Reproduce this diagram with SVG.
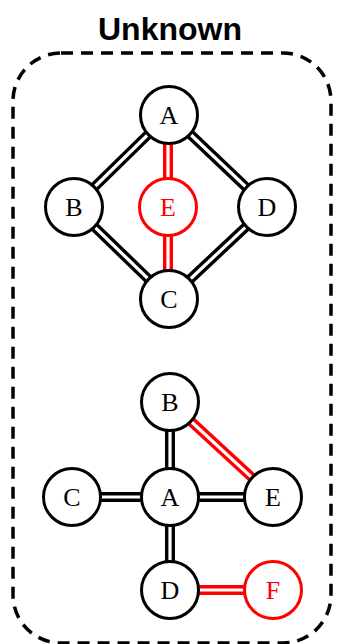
<svg xmlns="http://www.w3.org/2000/svg" width="338" height="644" viewBox="0 0 338 644">
<style>
.t{font-family:"Liberation Sans",Arial,sans-serif;font-weight:bold;font-size:32px;fill:#000}
.n circle{fill:#fff;stroke:#000;stroke-width:3}
.n text{font-family:"Liberation Serif","Times New Roman",serif;font-size:26px;fill:#000;text-anchor:middle}
.r circle{stroke:#f00}
.r text{fill:#f00}
.ob{stroke:#000;stroke-width:10;fill:none}
.or{stroke:#f00;stroke-width:10;fill:none}
.in{stroke:#fff;stroke-width:3.2;fill:none}
</style>
<rect x="13" y="53" width="318" height="590" rx="48" ry="48" fill="none" stroke="#000" stroke-width="3.5" stroke-dasharray="12 8"/>
<text class="t" x="170" y="40" text-anchor="middle">Unknown</text>
<g id="connectors">
<g class="ob">
<line x1="169" y1="114" x2="74" y2="207"/>
<line x1="169" y1="114" x2="267" y2="207"/>
<line x1="74" y1="207" x2="169" y2="299"/>
<line x1="267" y1="207" x2="169" y2="299"/>
<line x1="170" y1="402" x2="170" y2="497"/>
<line x1="72" y1="497" x2="170" y2="497"/>
<line x1="170" y1="497" x2="273" y2="497"/>
<line x1="170" y1="497" x2="170" y2="590"/>
</g>
<g class="or">
<line x1="168" y1="114" x2="168" y2="299"/>
<line x1="170" y1="402" x2="273" y2="497"/>
<line x1="170" y1="590" x2="273" y2="590"/>
</g>
<g class="in">
<line x1="169" y1="114" x2="74" y2="207"/>
<line x1="169" y1="114" x2="267" y2="207"/>
<line x1="74" y1="207" x2="169" y2="299"/>
<line x1="267" y1="207" x2="169" y2="299"/>
<line x1="168" y1="114" x2="168" y2="299"/>
<line x1="170" y1="402" x2="170" y2="497"/>
<line x1="72" y1="497" x2="170" y2="497"/>
<line x1="170" y1="497" x2="273" y2="497"/>
<line x1="170" y1="497" x2="170" y2="590"/>
<line x1="170" y1="402" x2="273" y2="497"/>
<line x1="170" y1="590" x2="273" y2="590"/>
</g>
</g>
<g id="g1A" class="n"><circle cx="169" cy="115" r="28.5"/><text x="169" y="124">A</text></g>
<g id="g1B" class="n"><circle cx="74" cy="207" r="28.5"/><text x="74" y="216">B</text></g>
<g id="g1E" class="n r"><circle cx="168" cy="207" r="28.5"/><text x="168" y="216">E</text></g>
<g id="g1D" class="n"><circle cx="267" cy="207" r="28.5"/><text x="267" y="216">D</text></g>
<g id="g1C" class="n"><circle cx="169" cy="299" r="28.5"/><text x="169" y="308">C</text></g>
<g id="g2B" class="n"><circle cx="170" cy="402" r="28.5"/><text x="170" y="411">B</text></g>
<g id="g2A" class="n"><circle cx="170" cy="497" r="28.5"/><text x="170" y="506">A</text></g>
<g id="g2C" class="n"><circle cx="72" cy="497" r="28.5"/><text x="72" y="506">C</text></g>
<g id="g2E" class="n"><circle cx="273" cy="497" r="28.5"/><text x="273" y="506">E</text></g>
<g id="g2D" class="n"><circle cx="170" cy="590" r="28.5"/><text x="170" y="599">D</text></g>
<g id="g2F" class="n r"><circle cx="273" cy="590" r="28.5"/><text x="273" y="599">F</text></g>
</svg>
